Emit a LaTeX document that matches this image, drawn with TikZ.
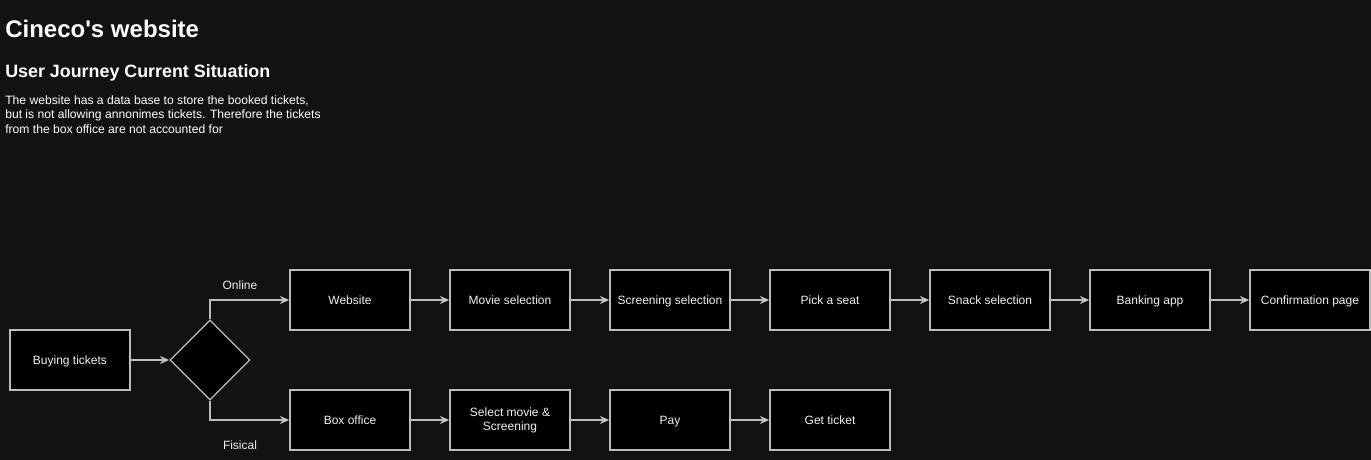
\documentclass[tikz,border=0pt]{standalone}
\usepackage{fontspec}
\setmainfont{Liberation Sans}
\usetikzlibrary{arrows.meta,shapes.geometric}
\definecolor{bg}{HTML}{121212}
\definecolor{edgec}{HTML}{BDBDBD}
\definecolor{txt}{HTML}{F0F0F0}
\begin{document}
\begin{tikzpicture}[x=0.75pt,y=-0.75pt,
  stepbox/.style={draw=edgec,fill=black,line width=1pt,minimum width=90pt,minimum height=45pt,inner sep=0pt,text=txt,font=\fontsize{9}{10.5}\selectfont,align=center},
  onebox/.style={stepbox,text height=8.4pt,text depth=1.6pt},
  decision/.style={diamond,draw=edgec,fill=black,line width=1pt,minimum width=60pt,minimum height=60pt,inner sep=0pt,aspect=1},
  flow/.style={draw=edgec,line width=1pt,-{Stealth[length=7pt,width=6pt,inset=2pt,fill=white]}},
  lbl/.style={text=txt,font=\fontsize{9}{10.5}\selectfont,inner sep=0pt}]
\fill[bg] (0,0) rectangle (1371,460);
\useasboundingbox (0,0) rectangle (1371,460);
\node[anchor=base west,inner sep=0pt,text=white,font=\fontsize{18}{21}\selectfont\bfseries] (title) at (5,38) {Cineco\textquotesingle s website};
\node[anchor=base west,inner sep=0pt,text=white,font=\fontsize{13.4}{16}\selectfont\bfseries] (sub) at (5,78) {User Journey Current Situation};
\node[anchor=north west,inner sep=0pt,text=white,align=left,font=\fontsize{9.1}{10.9}\selectfont] (para) at (5,95) {The website has a data base to store the booked tickets,\\but is not allowing annonimes tickets. Therefore the tickets\\from the box office are not accounted for};
\node[onebox] (buy) at (70,360) {Buying tickets};
\node[decision] (dec) at (210,360) {};
\node[onebox] (web) at (350,300) {Website};
\node[onebox] (movie) at (510,300) {Movie selection};
\node[onebox] (screen) at (670,300) {Screening selection};
\node[onebox] (seat) at (830,300) {Pick a seat};
\node[onebox] (snack) at (990,300) {Snack selection};
\node[onebox] (bank) at (1150,300) {Banking app};
\node[onebox] (conf) at (1310,300) {Confirmation page};
\node[onebox] (box) at (350,420) {Box office};
\node[stepbox] (sel) at (510,420) {Select movie \&\\Screening};
\node[onebox] (pay) at (670,420) {Pay};
\node[onebox] (get) at (830,420) {Get ticket};
\node[lbl] (online) at (240,285) {Online};
\node[lbl] (fisical) at (240,445) {Fisical};
\draw[flow] (buy) -- (dec);
\draw[flow] (dec.north) |- (web.west);
\draw[flow] (dec.south) |- (box.west);
\draw[flow] (web) -- (movie);
\draw[flow] (movie) -- (screen);
\draw[flow] (screen) -- (seat);
\draw[flow] (seat) -- (snack);
\draw[flow] (snack) -- (bank);
\draw[flow] (bank) -- (conf);
\draw[flow] (box) -- (sel);
\draw[flow] (sel) -- (pay);
\draw[flow] (pay) -- (get);
\end{tikzpicture}
\end{document}
